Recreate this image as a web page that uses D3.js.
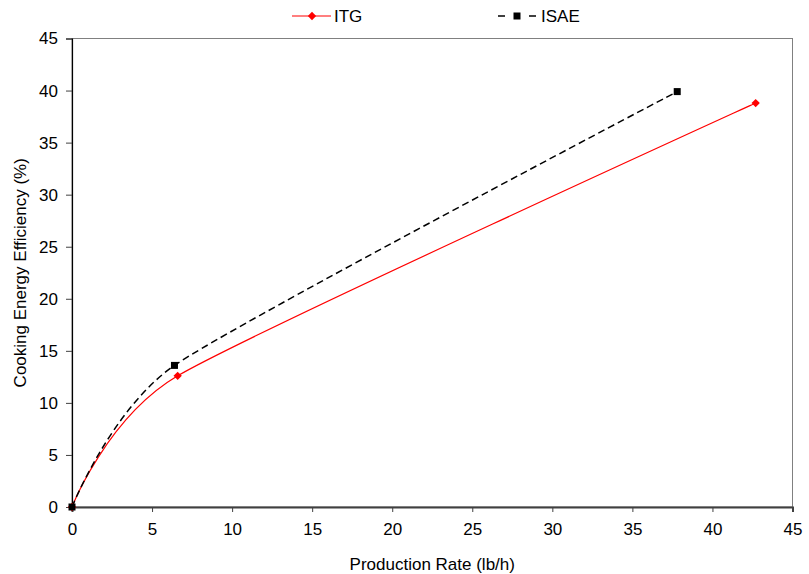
<!DOCTYPE html>
<html><head><meta charset="utf-8">
<script src="https://cdn.jsdelivr.net/npm/d3@7"></script>
<style>body{margin:0;background:#fff}svg{display:block;font-family:"Liberation Sans",Arial,sans-serif}</style>
</head><body><svg id="c" width="809" height="574"></svg>
<script>
const itgX = [0, 6.6, 42.7];
const itgY = [0, 12.6, 38.8];
const isaeX = [0, 6.4, 37.8];
const isaeY = [0, 13.6, 39.9];
const xTicks = [0,5,10,15,20,25,30,35,40,45];
const yTicks = [0,5,10,15,20,25,30,35,40,45];
const seriesNames = ["ITG","ISAE"];
const xTitle = "Production Rate (lb/h)";
const yTitle = "Cooking Energy Efficiency (%)";

const svg = d3.select("#c");
const m = {l:72, r:16.5, t:38.5, b:67};
const W = 809, H = 574;
const x = d3.scaleLinear().domain([0,45]).range([m.l, W-m.r]);
const y = d3.scaleLinear().domain([0,45]).range([H-m.b, m.t]);
const fs = 17;

// frame (top/right)
svg.append("rect").attr("x",x(0)).attr("y",y(45)).attr("width",x(45)-x(0)).attr("height",y(0)-y(45))
  .attr("fill","none").attr("stroke","#808080").attr("stroke-width",1);

// x axis
const xa = svg.append("g").attr("transform",`translate(0,${y(0)})`)
  .call(d3.axisBottom(x).tickValues(xTicks).tickSize(5).tickPadding(11).tickFormat(d3.format("d")));
xa.select(".domain").attr("stroke","#404040").attr("stroke-width",2);
xa.selectAll(".tick line").attr("stroke","#404040");
xa.selectAll("text").attr("font-size",fs).attr("fill","#000").attr("font-family","Liberation Sans, Arial");

// y axis
const ya = svg.append("g").attr("transform",`translate(${x(0)},0)`)
  .call(d3.axisLeft(y).tickValues(yTicks).tickSize(6).tickPadding(8).tickFormat(d3.format("d")));
ya.select(".domain").attr("stroke","#000").attr("stroke-width",1.2);
ya.selectAll(".tick line").attr("stroke","#404040");
ya.selectAll("text").attr("font-size",fs).attr("fill","#000").attr("font-family","Liberation Sans, Arial");

// titles
svg.append("text").attr("x",(x(0)+x(45))/2).attr("y",570).attr("text-anchor","middle")
  .attr("font-size",fs).text(xTitle);
svg.append("text").attr("transform",`translate(26,${(y(0)+y(45))/2}) rotate(-90)`).attr("text-anchor","middle")
  .attr("font-size",fs).text(yTitle);

const curve = d3.curveCardinal.tension(0.38);
const line = d3.line().x(d=>x(d[0])).y(d=>y(d[1])).curve(curve);
const itg = itgX.map((v,i)=>[v,itgY[i]]);
const isae = isaeX.map((v,i)=>[v,isaeY[i]]);

svg.append("path").attr("d",line(itg)).attr("fill","none").attr("stroke","#ff0000").attr("stroke-width",1.2);
svg.append("path").attr("d",line(isae)).attr("fill","none").attr("stroke","#000").attr("stroke-width",1.5)
  .attr("stroke-dasharray","7,4");

const diamond = d3.symbol().type(d3.symbolDiamond2).size(44);
svg.selectAll(".mi").data(itg).join("path").attr("d",diamond)
  .attr("transform",d=>`translate(${x(d[0])},${y(d[1])})`).attr("fill","#ff0000");
svg.selectAll(".ms").data(isae).join("rect")
  .attr("x",d=>x(d[0])-3.5).attr("y",d=>y(d[1])-3.5).attr("width",7).attr("height",7).attr("fill","#000");

// legend
const ly = 16;
svg.append("line").attr("x1",292).attr("x2",331).attr("y1",ly).attr("y2",ly).attr("stroke","#ff0000").attr("stroke-width",1.2);
svg.append("path").attr("d",diamond).attr("transform",`translate(312,${ly})`).attr("fill","#ff0000");
svg.append("text").attr("x",334).attr("y",ly+6).attr("font-size",fs).text(seriesNames[0]);
svg.append("line").attr("x1",498).attr("x2",505).attr("y1",ly).attr("y2",ly).attr("stroke","#000").attr("stroke-width",1.5);
svg.append("line").attr("x1",529).attr("x2",536).attr("y1",ly).attr("y2",ly).attr("stroke","#000").attr("stroke-width",1.5);
svg.append("rect").attr("x",517-3.5).attr("y",ly-3.5).attr("width",7).attr("height",7).attr("fill","#000");
svg.append("text").attr("x",541).attr("y",ly+6).attr("font-size",fs).text(seriesNames[1]);
</script></body></html>
